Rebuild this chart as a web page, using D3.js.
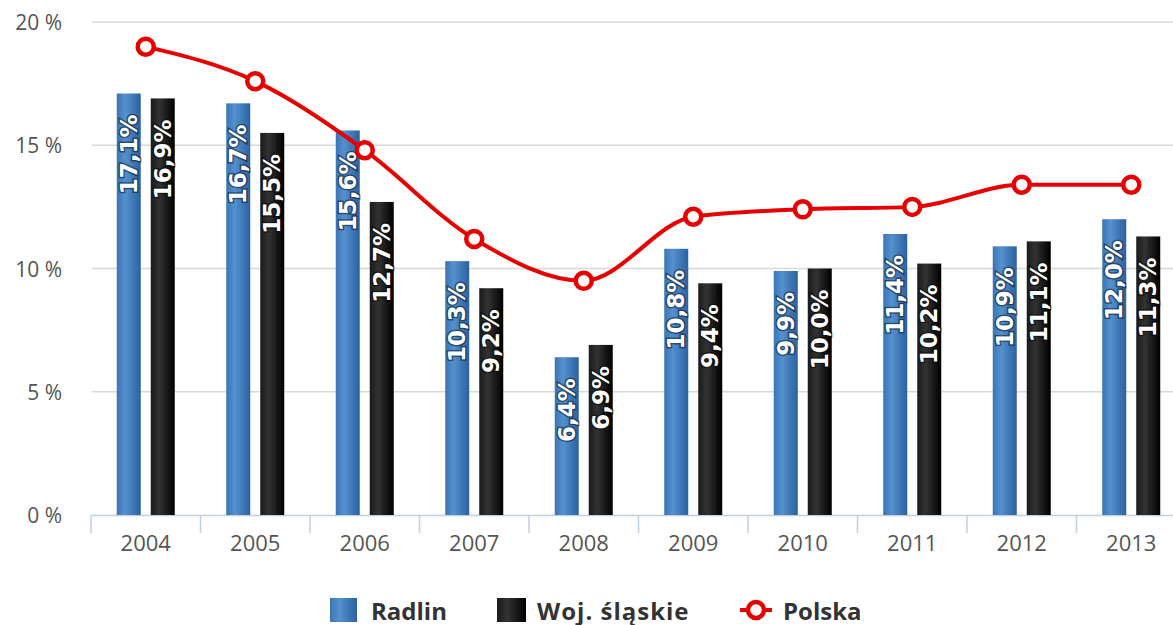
<!DOCTYPE html>
<html>
<head>
<meta charset="utf-8">
<script src="https://cdn.jsdelivr.net/npm/d3@7"></script>
<style>
  body { margin: 0; background: #fff; }
  svg { display: block; }
</style>
</head>
<body>
<div id="chart"></div>
<script>
const years = ['2004', '2005', '2006', '2007', '2008', '2009', '2010', '2011', '2012', '2013'];
const radlin = [17.1, 16.7, 15.6, 10.3, 6.4, 10.8, 9.9, 11.4, 10.9, 12.0];
const slaskie = [16.9, 15.5, 12.7, 9.2, 6.9, 9.4, 10.0, 10.2, 11.1, 11.3];
const polska = [19.0, 17.6, 14.8, 11.2, 9.5, 12.1, 12.4, 12.5, 13.4, 13.4];
const yTicks = [0, 5, 10, 15, 20];

const width = 1173;
const height = 625;

const svg = d3.select('#chart')
  .append('svg')
  .attr('width', width)
  .attr('height', height);

const defs = svg.append('defs');
const blue = defs.append('linearGradient').attr('id', 'gBlue').attr('x1', 0).attr('x2', 1);
blue.append('stop').attr('offset', '0%').attr('stop-color', '#3a74b4');
blue.append('stop').attr('offset', '35%').attr('stop-color', '#5590cf');
blue.append('stop').attr('offset', '100%').attr('stop-color', '#2b619f');
const black = defs.append('linearGradient').attr('id', 'gBlack').attr('x1', 0).attr('x2', 1);
black.append('stop').attr('offset', '0%').attr('stop-color', '#1a1a1a');
black.append('stop').attr('offset', '35%').attr('stop-color', '#333');
black.append('stop').attr('offset', '100%').attr('stop-color', '#000');

const xScale = d3.scaleBand().domain(years).range([91, 1186]);
const yScale = d3.scaleLinear().domain([0, 20]).range([515, 22]);

// gridlines
svg.append('g')
  .selectAll('line')
  .data(yTicks.filter(d => d > 0))
  .join('line')
  .attr('x1', 92)
  .attr('x2', width)
  .attr('y1', d => yScale(d))
  .attr('y2', d => yScale(d))
  .attr('stroke', '#d8d8d8')
  .attr('stroke-width', 1.5);

// y axis labels
svg.append('g')
  .selectAll('text')
  .data(yTicks)
  .join('text')
  .attr('x', 62)
  .attr('y', d => yScale(d))
  .attr('text-anchor', 'end')
  .attr('dominant-baseline', 'central')
  .attr('font-family', 'Open Sans, sans-serif')
  .attr('font-size', 21)
  .attr('fill', '#555')
  .text(d => d + ' %');

// x axis
const xAxis = svg.append('g')
  .attr('transform', 'translate(0, 515)')
  .call(d3.axisBottom(xScale).tickSize(0).tickPadding(20));
xAxis.select('.domain').attr('stroke', '#c0d0e0').attr('stroke-width', 1.5);
xAxis.selectAll('text')
  .attr('font-family', 'Open Sans, sans-serif')
  .attr('font-size', 22)
  .attr('fill', '#555');
xAxis.selectAll('.boundary')
  .data(years)
  .join('line')
  .attr('class', 'boundary')
  .attr('x1', d => xScale(d))
  .attr('x2', d => xScale(d))
  .attr('y1', 0)
  .attr('y2', 18)
  .attr('stroke', '#c0d0e0')
  .attr('stroke-width', 1.5);

// bars
const barW = 24;
const series = [
  { name: 'Radlin', values: radlin, fill: 'url(#gBlue)', offset: -17 },
  { name: 'Woj. śląskie', values: slaskie, fill: 'url(#gBlack)', offset: 17 },
];

series.forEach(s => {
  const g = svg.append('g');
  const rows = years.map((y, i) => ({ year: y, value: s.values[i] }));
  g.selectAll('rect')
    .data(rows)
    .join('rect')
    .attr('x', d => xScale(d.year) + xScale.bandwidth() / 2 + s.offset - barW / 2)
    .attr('y', d => yScale(d.value))
    .attr('width', barW)
    .attr('height', d => yScale(0) - yScale(d.value))
    .attr('fill', s.fill);

  g.selectAll('text')
    .data(rows)
    .join('text')
    .attr('transform', d => `translate(${xScale(d.year) + xScale.bandwidth() / 2 + s.offset}, ${yScale(d.value) + 21}) rotate(-90)`)
    .attr('text-anchor', 'end')
    .attr('dominant-baseline', 'central')
    .attr('font-family', 'DejaVu Sans, sans-serif')
    .attr('font-weight', 'bold')
    .attr('font-size', 23)
    .attr('fill', '#fff')
    .attr('stroke', 'rgba(0,0,0,0.45)')
    .attr('stroke-width', 3)
    .attr('paint-order', 'stroke')
    .text(d => d3.format('.1f')(d.value).replace('.', ',') + '%');
});

// Polska line
const pts = years.map((y, i) => ({ year: y, value: polska[i] }));
const line = d3.line()
  .x(d => xScale(d.year) + xScale.bandwidth() / 2)
  .y(d => yScale(d.value))
  .curve(d3.curveMonotoneX);

svg.append('path')
  .datum(pts)
  .attr('d', line)
  .attr('fill', 'none')
  .attr('stroke', '#e60000')
  .attr('stroke-width', 4);

svg.append('g')
  .selectAll('circle')
  .data(pts)
  .join('circle')
  .attr('cx', d => xScale(d.year) + xScale.bandwidth() / 2)
  .attr('cy', d => yScale(d.value))
  .attr('r', 8)
  .attr('fill', '#fff')
  .attr('stroke', '#e60000')
  .attr('stroke-width', 4.5);

// legend
const legend = svg.append('g').attr('font-family', 'Open Sans, sans-serif')
  .attr('font-weight', 'bold').attr('font-size', 24).attr('fill', '#333');

legend.append('rect').attr('x', 330).attr('y', 598).attr('width', 27).attr('height', 24).attr('fill', 'url(#gBlue)');
legend.append('text').attr('x', 371).attr('y', 610).attr('dominant-baseline', 'central').text('Radlin');

legend.append('rect').attr('x', 497).attr('y', 598).attr('width', 29).attr('height', 24).attr('fill', 'url(#gBlack)');
legend.append('text').attr('x', 537).attr('y', 610).attr('dominant-baseline', 'central').attr('letter-spacing', 1).text('Woj. śląskie');

legend.append('line').attr('x1', 740).attr('x2', 772).attr('y1', 610).attr('y2', 610)
  .attr('stroke', '#e60000').attr('stroke-width', 4);
legend.append('circle').attr('cx', 756).attr('cy', 610).attr('r', 8)
  .attr('fill', '#fff').attr('stroke', '#e60000').attr('stroke-width', 4.5);
legend.append('text').attr('x', 783).attr('y', 610).attr('dominant-baseline', 'central').text('Polska');
</script>
</body>
</html>
